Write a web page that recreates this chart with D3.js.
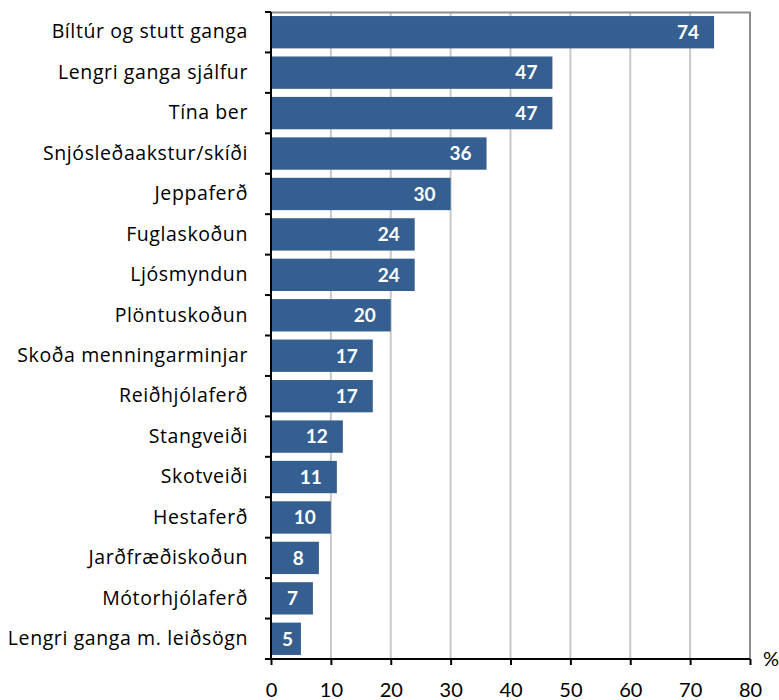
<!DOCTYPE html>
<html lang="is">
<head>
  <meta charset="UTF-8">
  <title>Afþreying</title>
  <style>
    body { margin: 0; background: #fff; }
    svg text { font-family: 'Lato', 'Open Sans', sans-serif; }
  </style>
  <script src="https://d3js.org/d3.v7.min.js"></script>
</head>
<body>
  <div id="chart"></div>
  <script>
    const categories = [
      "Bíltúr og stutt ganga", "Lengri ganga sjálfur", "Tína ber", "Snjósleðaakstur/skíði",
      "Jeppaferð", "Fuglaskoðun", "Ljósmyndun", "Plöntuskoðun", "Skoða menningarminjar",
      "Reiðhjólaferð", "Stangveiði", "Skotveiði", "Hestaferð", "Jarðfræðiskoðun",
      "Mótorhjólaferð", "Lengri ganga m. leiðsögn"
    ];
    const values = [74, 47, 47, 36, 30, 24, 24, 20, 17, 17, 12, 11, 10, 8, 7, 5];
    const xTicks = [0, 10, 20, 30, 40, 50, 60, 70, 80];

    const width = 779, height = 700;
    const margin = { top: 12, right: 29, bottom: 41, left: 271 };
    const w = width - margin.left - margin.right;
    const h = height - margin.top - margin.bottom;

    const svg = d3.select("#chart").append("svg")
      .attr("width", width).attr("height", height);
    const g = svg.append("g")
      .attr("transform", `translate(${margin.left},${margin.top})`);

    const x = d3.scaleLinear().domain([0, 80]).range([0, w]);
    const y = d3.scaleBand().domain(categories).range([0, h]).paddingInner(0.2).paddingOuter(0.1);

    // rist
    g.selectAll(".grid")
      .data(xTicks.slice(1, -1))
      .join("line")
      .attr("x1", d => x(d)).attr("x2", d => x(d))
      .attr("y1", 0).attr("y2", h)
      .attr("stroke", "#c8c8c8").attr("stroke-width", 2);

    // rammi efst og hægra megin
    g.append("path")
      .attr("d", `M0,0.5H${x(80)}V${h}`)
      .attr("fill", "none").attr("stroke", "#8c8c8c").attr("stroke-width", 2);

    // súlur
    g.selectAll(".bar")
      .data(values)
      .join("rect")
      .attr("x", 0)
      .attr("y", (d, i) => y(categories[i]))
      .attr("width", d => x(d))
      .attr("height", y.bandwidth())
      .attr("fill", "#365f91");

    // gildi
    g.selectAll(".val")
      .data(values)
      .join("text")
      .attr("x", d => Math.max(x(d) - 15, 22))
      .attr("y", (d, i) => y(categories[i]) + y.bandwidth() / 2)
      .attr("dy", "0.36em")
      .attr("text-anchor", "end")
      .attr("fill", "#fff")
      .attr("font-weight", "bold")
      .attr("font-size", 19)
      .text(d => d);

    // y-ás
    const yAxis = d3.axisLeft(y).tickSize(0).tickPadding(23);
    const ya = g.append("g").call(yAxis);
    ya.select(".domain").remove();
    ya.selectAll("text").attr("font-size", 19.5).attr("fill", "#000")
      .attr("letter-spacing", 0.6)
      .style("font-family", "'Open Sans', sans-serif");

    // hak á milli flokka
    const bounds = d3.range(categories.length + 1).map(i => i * h / categories.length);
    g.selectAll(".ytick")
      .data(bounds)
      .join("line")
      .attr("x1", -6).attr("x2", 0)
      .attr("y1", d => d).attr("y2", d => d)
      .attr("stroke", "#000").attr("stroke-width", 2);
    g.append("line")
      .attr("x1", 0).attr("x2", 0).attr("y1", 0).attr("y2", h)
      .attr("stroke", "#000").attr("stroke-width", 2);

    // x-ás
    const xa = g.append("g").attr("transform", `translate(0,${h})`)
      .call(d3.axisBottom(x).tickValues(xTicks).tickSize(6).tickPadding(18));
    xa.select(".domain").attr("stroke-width", 2).attr("d", `M0,0H${x(80)}`);
    xa.selectAll(".tick line").attr("stroke-width", 2);
    xa.selectAll("text").attr("font-size", 20).attr("fill", "#000");

    g.append("text")
      .attr("x", x(80) + 13).attr("y", h + 7)
      .attr("font-size", 20)
      .text("%");
  </script>
</body>
</html>
